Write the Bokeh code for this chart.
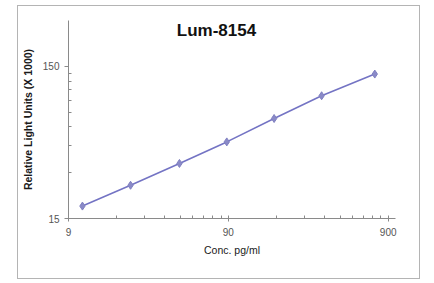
from bokeh.plotting import figure
from bokeh.models import Range1d, FixedTicker, Label, PrintfTickFormatter
from bokeh.embed import file_html
from bokeh.resources import INLINE

# Data
conc = [11.0, 22.0, 44.5, 88.0, 174.0, 345.0, 742.0]
rlu = [18.1, 24.8, 34.5, 47.8, 68.1, 96.1, 133.4]

x_major = [9, 90, 900]
x_minor = [18, 27, 36, 45, 54, 63, 72, 81, 180, 270, 360, 450, 540, 630, 720, 810]
y_major = [15, 150]
y_minor = [30, 45, 60, 75, 90, 105, 120, 135]

title_text = "Lum-8154"
x_label = "Conc. pg/ml"
y_label = "Relative Light Units (X 1000)"

p = figure(width=401, height=272, x_axis_type="log", y_axis_type="log",
           x_range=Range1d(9, 1000), y_range=Range1d(15, 300),
           output_backend="svg", toolbar_location=None,
           min_border_left=50, min_border_right=24, min_border_top=14, min_border_bottom=60)
p.margin = (6, 0, 0, 18)
p.styles = {"outline": "1px solid #b4b4b4"}
p.grid.visible = False
p.outline_line_color = None
p.background_fill_color = "white"
p.border_fill_color = "white"

p.xaxis.ticker = FixedTicker(ticks=x_major, minor_ticks=x_minor)
p.yaxis.ticker = FixedTicker(ticks=y_major, minor_ticks=y_minor)
p.xaxis.formatter = PrintfTickFormatter(format="%d")
p.yaxis.formatter = PrintfTickFormatter(format="%d")

for ax in (p.xaxis[0], p.yaxis[0]):
    ax.axis_line_color = "#8a8a8a"
    ax.major_tick_line_color = "#8a8a8a"
    ax.minor_tick_line_color = "#8a8a8a"
    ax.major_label_text_font = "Liberation Sans"
    ax.major_label_text_font_size = "10px"
    ax.major_label_text_color = "#555555"
    ax.axis_label_text_font = "Liberation Sans"
    ax.axis_label_text_color = "#1a1a1a"

p.xaxis.major_tick_in = 3
p.xaxis.major_tick_out = 3
p.xaxis.minor_tick_in = 3
p.xaxis.minor_tick_out = 0
p.xaxis.major_label_standoff = 6
p.xaxis.axis_label = x_label
p.xaxis.axis_label_text_font_style = "normal"
p.xaxis.axis_label_text_font_size = "10.5px"
p.xaxis.axis_label_standoff = 5

p.yaxis.major_tick_in = 0
p.yaxis.major_tick_out = 4
p.yaxis.minor_tick_in = 3
p.yaxis.minor_tick_out = 0
p.yaxis.major_label_standoff = 5
p.yaxis.axis_label = y_label
p.yaxis.axis_label_text_font_style = "bold"
p.yaxis.axis_label_text_font_size = "10.5px"
p.yaxis.axis_label_standoff = 6

p.line(conc, rlu, line_color="#7474c4", line_width=1.6)
p.scatter(conc, rlu, marker="diamond", size=8, fill_color="#8a8ac8",
          line_color="#8080c0", line_width=1)

title = Label(x=148, y=188, x_units="screen", y_units="screen", text=title_text,
              text_font="Liberation Sans", text_font_style="bold",
              text_font_size="17px", text_align="center", text_baseline="middle",
              text_color="#111111")
p.add_layout(title)

open("out.html", "w").write(file_html(p, INLINE))
